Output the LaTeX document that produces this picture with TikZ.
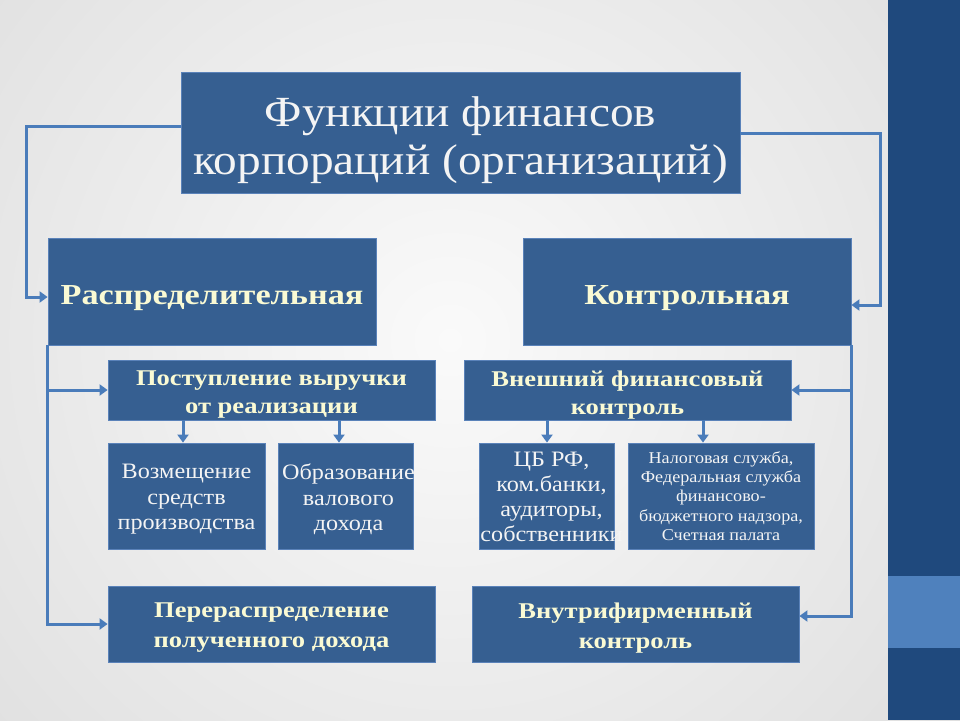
\documentclass[tikz,border=0pt]{standalone}
\usepackage{fontspec}
\setmainfont{Liberation Serif}[FakeStretch=1.1]
\newfontfamily\bserif{Liberation Serif}[FakeStretch=1.18]
\usetikzlibrary{arrows.meta,calc}
\definecolor{boxfill}{RGB}{54,95,145}
\definecolor{boxline}{RGB}{90,130,185}
\definecolor{conncol}{RGB}{74,124,186}
\definecolor{stripe}{RGB}{31,73,125}
\definecolor{stripelight}{RGB}{79,129,189}
\definecolor{cream}{RGB}{250,250,212}
\definecolor{whitish}{RGB}{244,244,244}
\definecolor{bginner}{RGB}{250,250,250}
\definecolor{bgouter}{RGB}{198,198,198}
\tikzset{
  box/.style={draw=boxline, line width=0.8pt, fill=boxfill, inner sep=0pt},
  btxt/.style={align=center, inner sep=0pt, text=cream},
  rtxt/.style={align=center, inner sep=0pt, text=whitish},
  conn/.style={draw=conncol, line width=3pt},
  arr/.style={conn, -{Triangle[length=8pt,width=11pt]}},
}
\begin{document}
\begin{tikzpicture}[x=1pt,y=-1pt]
\useasboundingbox (0,0) rectangle (960,720);
\shade[inner color=bginner, outer color=bgouter] (-790,-900) rectangle (1690,1580);
\fill[stripe] (888,0) rectangle (960,720);
\fill[stripelight] (888,576) rectangle (960,648);

% boxes
\node[box, minimum width=559pt, minimum height=121pt] (title) at (460.5,132.5) {};
\node[box, minimum width=328pt, minimum height=107pt] (raspr) at (212,291.5) {};
\node[box, minimum width=328pt, minimum height=107pt] (kontr) at (687,291.5) {};
\node[box, minimum width=327pt, minimum height=60pt] (post) at (271.5,390) {};
\node[box, minimum width=327pt, minimum height=60pt] (vnesh) at (627.5,390) {};
\node[box, minimum width=157pt, minimum height=106pt] (vozm) at (186.5,496) {};
\node[box, minimum width=135pt, minimum height=106pt] (obraz) at (345.5,496) {};
\node[box, minimum width=135pt, minimum height=106pt] (cb) at (546.5,496) {};
\node[box, minimum width=186pt, minimum height=106pt] (nalog) at (721,496) {};
\node[box, minimum width=327pt, minimum height=76pt] (perer) at (271.5,624) {};
\node[box, minimum width=327pt, minimum height=76pt] (vnutr) at (635.5,624) {};

% texts
\node[rtxt, font=\fontsize{43}{48}\selectfont] (titlet) at ([yshift=-8pt]title.center) {Функции финансов\\корпораций (организаций)};
\node[btxt, font=\bserif\bfseries\fontsize{29}{34}\selectfont] (rasprt) at ([yshift=-7pt]raspr.center) {Распределительная};
\node[btxt, font=\bserif\bfseries\fontsize{29}{34}\selectfont] (kontrt) at ([yshift=-7pt]kontr.center) {Контрольная};
\node[btxt, font=\bserif\bfseries\fontsize{22.5}{28}\selectfont] (postt) at ([yshift=-5pt]post.center) {Поступление выручки\\от реализации};
\node[btxt, font=\bserif\bfseries\fontsize{22.5}{28}\selectfont] (vnesht) at ([yshift=-5pt]vnesh.center) {Внешний финансовый\\контроль};
\node[rtxt, font=\fontsize{22}{25.5}\selectfont] (vozmt) at ([yshift=-3.5pt]vozm.center) {Возмещение\\средств\\производства};
\node[rtxt, font=\fontsize{22}{25.5}\selectfont] (obrazt) at ([xshift=3pt,yshift=-3.5pt]obraz.center) {Образование\\валового\\дохода};
\node[rtxt, font=\fontsize{22}{25}\selectfont] (cbt) at ([xshift=5pt,yshift=-1pt]cb.center) {ЦБ РФ,\\ком.банки,\\аудиторы,\\собственники};
\node[rtxt, font=\fontsize{16.5}{19.25}\selectfont] (nalogt) at (nalog.center) {Налоговая служба,\\Федеральная служба\\финансово-\\бюджетного надзора,\\Счетная палата};
\node[btxt, font=\bserif\bfseries\fontsize{22.5}{30}\selectfont] (perert) at ([yshift=-4pt]perer.center) {Перераспределение\\полученного дохода};
\node[btxt, font=\bserif\bfseries\fontsize{22.5}{30}\selectfont] (vnutrt) at ([yshift=-4pt]vnutr.center) {Внутрифирменный\\контроль};

% connectors
\draw[arr] ([yshift=6.5pt]title.west) -| ([xshift=-21pt,yshift=-5.5pt]raspr.west) -- ([yshift=-5.5pt]raspr.west);
\draw[arr] ([yshift=-0.5pt]title.east) -| ([xshift=29pt,yshift=-13.5pt]kontr.east) -- ([yshift=-13.5pt]kontr.east);

\draw[arr] (raspr.south west) |- (perer.west);
\draw[arr] (raspr.south west |- post.west) -- (post.west);
\draw[arr] (kontr.south east) |- ([yshift=8pt]vnutr.east);
\draw[arr] (kontr.south east |- vnesh.east) -- (vnesh.east);

\draw[arr] ($(vozm.north)+(-3.5,-23)$) -- ($(vozm.north)+(-3.5,0)$);
\draw[arr] ($(obraz.north)+(-6.5,-23)$) -- ($(obraz.north)+(-6.5,0)$);
\draw[arr] ($(cb.north)+(0.5,-23)$) -- ($(cb.north)+(0.5,0)$);
\draw[arr] ($(nalog.north)+(-18,-23)$) -- ($(nalog.north)+(-18,0)$);
\end{tikzpicture}
\end{document}
